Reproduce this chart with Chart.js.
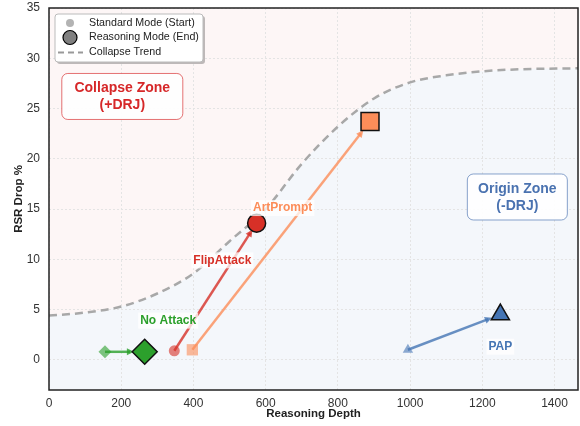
<!DOCTYPE html>
<html>
<head>
<meta charset="utf-8">
<script src="https://cdn.jsdelivr.net/npm/chart.js@4.4.1/dist/chart.umd.min.js"></script>
<style>
  html, body { margin: 0; padding: 0; background: #fff; }
</style>
</head>
<body>
<canvas id="driftChart" width="580" height="426"></canvas>
<script>
// data
const attacks = ['No Attack', 'FlipAttack', 'ArtPrompt', 'PAP'];
const startDepth = [155, 347, 397, 994];
const startDrop = [0.8, 0.9, 1.0, 1.0];
const endDepth = [265, 575, 889, 1250];
const endDrop = [0.8, 13.6, 23.7, 4.5];

const trendDepth = [0, 100, 200, 300, 400, 500, 600, 700, 800, 900, 1000, 1100, 1200, 1300, 1465];
const trendDrop = [4.4, 4.7, 5.3, 6.6, 8.6, 11.8, 15.0, 19.5, 23.2, 26.0, 27.6, 28.3, 28.7, 28.9, 29.0];

const xTicks = [0, 200, 400, 600, 800, 1000, 1200, 1400];
const yTicks = [0, 5, 10, 15, 20, 25, 30, 35];

// styling
const colors = ['#2ca02c', '#d73027', '#fc8d59', '#4575b4'];
const fadedColors = ['rgba(44,160,44,0.6)', 'rgba(215,48,39,0.6)', 'rgba(252,141,89,0.6)', 'rgba(69,117,180,0.6)'];
const lineColors = ['rgba(44,160,44,0.8)', 'rgba(215,48,39,0.8)', 'rgba(252,141,89,0.8)', 'rgba(69,117,180,0.8)'];
const shapes = ['rectRot', 'circle', 'rect', 'triangle'];
const startSizes = [6.5, 5.5, 8, 6];
const endSizes = [12.5, 9, 12.7, 10.5];
// where each attack name sits (data coords)
const labelAt = [[330, 3.9], [480, 9.9], [647, 15.1], [1250, 1.3]];

const FONT = '"Liberation Sans", Arial, sans-serif';

const arrowPlugin = {
  id: 'arrows',
  beforeDatasetsDraw(chart) {
    const { ctx, scales: { x, y } } = chart;
    ctx.save();
    attacks.forEach((name, i) => {
      const x0 = x.getPixelForValue(startDepth[i]);
      const y0 = y.getPixelForValue(startDrop[i]);
      const x1 = x.getPixelForValue(endDepth[i]);
      const y1 = y.getPixelForValue(endDrop[i]);
      const ang = Math.atan2(y1 - y0, x1 - x0);
      const stop = endSizes[i] * 0.85;
      const tx = x1 - Math.cos(ang) * stop;
      const ty = y1 - Math.sin(ang) * stop;
      ctx.strokeStyle = lineColors[i];
      ctx.fillStyle = lineColors[i];
      ctx.lineWidth = 2.5;
      ctx.beginPath();
      ctx.moveTo(x0, y0);
      ctx.lineTo(tx - Math.cos(ang) * 4, ty - Math.sin(ang) * 4);
      ctx.stroke();
      const head = 8;
      ctx.beginPath();
      ctx.moveTo(tx, ty);
      ctx.lineTo(tx - head * Math.cos(ang - 0.45), ty - head * Math.sin(ang - 0.45));
      ctx.lineTo(tx - head * Math.cos(ang + 0.45), ty - head * Math.sin(ang + 0.45));
      ctx.closePath();
      ctx.fill();
    });
    ctx.restore();
  }
};

function roundBox(ctx, x, y, w, h, r) {
  ctx.beginPath();
  ctx.moveTo(x + r, y);
  ctx.arcTo(x + w, y, x + w, y + h, r);
  ctx.arcTo(x + w, y + h, x, y + h, r);
  ctx.arcTo(x, y + h, x, y, r);
  ctx.arcTo(x, y, x + w, y, r);
  ctx.closePath();
}

const notesPlugin = {
  id: 'notes',
  afterDatasetsDraw(chart) {
    const { ctx, scales: { x, y } } = chart;
    ctx.save();
    ctx.textAlign = 'center';
    ctx.textBaseline = 'middle';
    ctx.font = 'bold 12px ' + FONT;
    attacks.forEach((name, i) => {
      const px = x.getPixelForValue(labelAt[i][0]);
      const py = y.getPixelForValue(labelAt[i][1]);
      const w = ctx.measureText(name).width;
      ctx.fillStyle = 'rgba(255,255,255,0.75)';
      ctx.fillRect(px - w / 2 - 2, py - 8, w + 4, 16);
      ctx.fillStyle = colors[i];
      ctx.fillText(name, px, py);
    });

    // zone boxes
    const zones = [
      { lines: ['Collapse Zone', '(+DRJ)'], at: [203, 26.2], w: 121, color: '#d62728', edge: 'rgba(214,39,40,0.65)' },
      { lines: ['Origin Zone', '(-DRJ)'], at: [1297, 16.2], w: 100, color: '#4a72b0', edge: 'rgba(74,114,176,0.65)' }
    ];
    ctx.font = 'bold 14px ' + FONT;
    zones.forEach(z => {
      const cx = x.getPixelForValue(z.at[0]);
      const cy = y.getPixelForValue(z.at[1]);
      roundBox(ctx, cx - z.w / 2, cy - 23, z.w, 46, 6);
      ctx.fillStyle = 'rgba(255,255,255,0.9)';
      ctx.fill();
      ctx.strokeStyle = z.edge;
      ctx.lineWidth = 1;
      ctx.stroke();
      ctx.fillStyle = z.color;
      ctx.fillText(z.lines[0], cx, cy - 8);
      ctx.fillText(z.lines[1], cx, cy + 9);
    });
    ctx.restore();
  },
  afterDraw(chart) {
    const { ctx, chartArea: a } = chart;
    ctx.save();
    // plot frame
    ctx.strokeStyle = '#222';
    ctx.lineWidth = 1.5;
    ctx.strokeRect(a.left, a.top, a.right - a.left, a.bottom - a.top);

    // legend
    const lx = 55, ly = 14, lw = 148, lh = 48;
    ctx.fillStyle = 'rgba(0,0,0,0.25)';
    roundBox(ctx, lx + 2, ly + 2, lw, lh, 3);
    ctx.fill();
    roundBox(ctx, lx, ly, lw, lh, 3);
    ctx.fillStyle = '#fff';
    ctx.fill();
    ctx.strokeStyle = '#bbb';
    ctx.lineWidth = 1;
    ctx.stroke();

    ctx.fillStyle = 'rgba(128,128,128,0.6)';
    ctx.beginPath();
    ctx.arc(70, 23, 4, 0, Math.PI * 2);
    ctx.fill();

    ctx.fillStyle = '#808080';
    ctx.strokeStyle = '#000';
    ctx.lineWidth = 1.2;
    ctx.beginPath();
    ctx.arc(70, 37.5, 7, 0, Math.PI * 2);
    ctx.fill();
    ctx.stroke();

    ctx.strokeStyle = '#999';
    ctx.lineWidth = 2;
    ctx.setLineDash([6, 4]);
    ctx.beginPath();
    ctx.moveTo(58, 52.5);
    ctx.lineTo(83, 52.5);
    ctx.stroke();
    ctx.setLineDash([]);

    ctx.fillStyle = '#222';
    ctx.font = '10.7px ' + FONT;
    ctx.textAlign = 'left';
    ctx.textBaseline = 'middle';
    ctx.fillText('Standard Mode (Start)', 89, 23);
    ctx.fillText('Reasoning Mode (End)', 89, 37.5);
    ctx.fillText('Collapse Trend', 89, 52.5);
    ctx.restore();
  }
};

const trendPoints = trendDepth.map((d, i) => ({ x: d, y: trendDrop[i] }));

new Chart(document.getElementById('driftChart'), {
  type: 'scatter',
  data: {
    datasets: [
      {
        label: 'Standard Mode (Start)',
        data: startDepth.map((d, i) => ({ x: d, y: startDrop[i] })),
        pointStyle: shapes,
        pointRadius: startSizes,
        backgroundColor: fadedColors,
        borderColor: fadedColors,
        borderWidth: 0,
        order: 1
      },
      {
        label: 'Reasoning Mode (End)',
        data: endDepth.map((d, i) => ({ x: d, y: endDrop[i] })),
        pointStyle: shapes,
        pointRadius: endSizes,
        backgroundColor: colors,
        borderColor: '#111',
        borderWidth: 1.5,
        order: 0
      },
      {
        label: 'Collapse Trend',
        type: 'line',
        data: trendPoints,
        borderColor: '#a8a8a8',
        borderWidth: 2.5,
        borderDash: [8, 5],
        pointRadius: 0,
        cubicInterpolationMode: 'monotone',
        fill: 'start',
        backgroundColor: 'rgba(69,117,180,0.06)',
        order: 2
      },
      {
        label: 'collapse region',
        type: 'line',
        data: trendPoints,
        borderWidth: 0,
        borderColor: 'rgba(0,0,0,0)',
        pointRadius: 0,
        cubicInterpolationMode: 'monotone',
        fill: 'end',
        backgroundColor: 'rgba(214,39,40,0.045)',
        order: 3
      }
    ]
  },
  options: {
    responsive: false,
    animation: false,
    layout: { autoPadding: false, padding: { top: 8, right: 2, left: 0, bottom: 0 } },
    plugins: {
      legend: { display: false },
      tooltip: { enabled: false },
      filler: { drawTime: 'beforeDraw' }
    },
    scales: {
      x: {
        type: 'linear',
        min: 0,
        max: 1465,
        afterBuildTicks: s => { s.ticks = xTicks.map(v => ({ value: v })); },
        afterFit: s => { s.height = 36; s.paddingLeft = 0; s.paddingRight = 0; },
        grid: { color: '#e4e4e4', drawTicks: false, lineWidth: 1 },
        border: { display: false, dash: [2, 2] },
        ticks: { color: '#333', padding: 6, font: { family: FONT, size: 12 }, callback: v => String(v) },
        title: { display: true, text: 'Reasoning Depth', color: '#222', padding: { top: 1, bottom: 5 }, font: { family: FONT, size: 11.5, weight: 'bold' } }
      },
      y: {
        type: 'linear',
        min: -3,
        max: 35,
        afterBuildTicks: s => { s.ticks = yTicks.map(v => ({ value: v })); },
        afterFit: s => { s.width = 49; s.paddingTop = 0; s.paddingBottom = 0; },
        grid: { color: '#e4e4e4', drawTicks: false, lineWidth: 1 },
        border: { display: false, dash: [2, 2] },
        ticks: { color: '#333', padding: 9, font: { family: FONT, size: 12 }, callback: v => String(v) },
        title: { display: true, text: 'RSR Drop %', color: '#222', padding: { top: 12, bottom: 0 }, font: { family: FONT, size: 11.5, weight: 'bold' } }
      }
    }
  },
  plugins: [arrowPlugin, notesPlugin]
});
</script>
</body>
</html>
